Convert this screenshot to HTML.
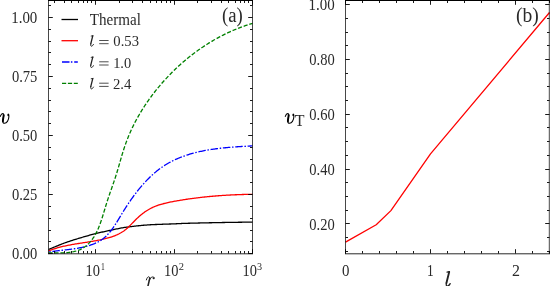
<!DOCTYPE html>
<html><head><meta charset="utf-8"><style>
html,body{margin:0;padding:0;background:#fff;}
svg{display:block;}
text{font-family:"Liberation Serif",serif;fill:#2a2a2a;}
svg{will-change:transform;}
</style></head><body>
<svg width="550" height="286" viewBox="0 0 550 286">
<rect width="550" height="286" fill="#fff"/>
<g fill="none" stroke-linejoin="round">
<polyline points="48.50,249.50 49.50,249.08 50.50,248.66 51.50,248.25 52.50,247.83 53.50,247.42 54.50,247.01 55.50,246.60 56.50,246.20 57.50,245.79 58.50,245.38 59.50,244.97 60.50,244.56 61.50,244.16 62.50,243.76 63.50,243.38 64.50,243.01 65.50,242.65 66.50,242.30 67.50,241.95 68.50,241.61 69.50,241.28 70.50,240.95 71.50,240.63 72.50,240.31 73.50,239.99 74.50,239.68 75.50,239.37 76.50,239.06 77.50,238.75 78.50,238.45 79.50,238.15 80.50,237.85 81.50,237.55 82.50,237.25 83.50,236.96 84.50,236.66 85.50,236.37 86.50,236.08 87.50,235.80 88.50,235.51 89.50,235.23 90.50,234.96 91.50,234.69 92.50,234.42 93.50,234.16 94.50,233.90 95.50,233.65 96.50,233.40 97.50,233.16 98.50,232.92 99.50,232.69 100.50,232.46 101.50,232.23 102.50,232.00 103.50,231.78 104.50,231.56 105.50,231.34 106.50,231.13 107.50,230.91 108.50,230.70 109.50,230.49 110.50,230.28 111.50,230.07 112.50,229.85 113.50,229.63 114.50,229.41 115.50,229.19 116.50,228.98 117.50,228.76 118.50,228.55 119.50,228.35 120.50,228.16 121.50,227.97 122.50,227.79 123.50,227.63 124.50,227.47 125.50,227.33 126.50,227.19 127.50,227.06 128.50,226.92 129.50,226.79 130.50,226.66 131.50,226.54 132.50,226.41 133.50,226.29 134.50,226.18 135.50,226.06 136.50,225.95 137.50,225.84 138.50,225.74 139.50,225.64 140.50,225.54 141.50,225.44 142.50,225.35 143.50,225.27 144.50,225.18 145.50,225.10 146.50,225.03 147.50,224.96 148.50,224.89 149.50,224.83 150.50,224.77 151.50,224.72 152.50,224.66 153.50,224.62 154.50,224.57 155.50,224.52 156.50,224.48 157.50,224.44 158.50,224.40 159.50,224.36 160.50,224.33 161.50,224.29 162.50,224.26 163.50,224.22 164.50,224.19 165.50,224.15 166.50,224.12 167.50,224.09 168.50,224.05 169.50,224.02 170.50,223.98 171.50,223.94 172.50,223.90 173.50,223.86 174.50,223.82 175.50,223.78 176.50,223.73 177.50,223.68 178.50,223.63 179.50,223.58 180.50,223.53 181.50,223.50 182.50,223.46 183.50,223.43 184.50,223.40 185.50,223.36 186.50,223.33 187.50,223.30 188.50,223.27 189.50,223.24 190.50,223.21 191.50,223.19 192.50,223.16 193.50,223.13 194.50,223.11 195.50,223.08 196.50,223.05 197.50,223.03 198.50,223.01 199.50,222.98 200.50,222.96 201.50,222.93 202.50,222.91 203.50,222.89 204.50,222.87 205.50,222.85 206.50,222.83 207.50,222.81 208.50,222.79 209.50,222.77 210.50,222.75 211.50,222.73 212.50,222.71 213.50,222.69 214.50,222.67 215.50,222.65 216.50,222.63 217.50,222.61 218.50,222.59 219.50,222.58 220.50,222.56 221.50,222.54 222.50,222.52 223.50,222.51 224.50,222.49 225.50,222.47 226.50,222.45 227.50,222.44 228.50,222.42 229.50,222.40 230.50,222.39 231.50,222.37 232.50,222.36 233.50,222.34 234.50,222.33 235.50,222.31 236.50,222.30 237.50,222.28 238.50,222.27 239.50,222.25 240.50,222.24 241.50,222.23 242.50,222.21 243.50,222.20 244.50,222.19 245.50,222.18 246.50,222.16 247.50,222.15 248.50,222.14 249.50,222.13 250.50,222.12 251.50,222.11 252.50,222.10" stroke="#000" stroke-width="1.3"/>
<polyline points="48.50,250.92 49.44,250.55 50.38,250.19 51.33,249.84 52.28,249.50 53.23,249.18 54.18,248.86 55.13,248.56 56.09,248.26 57.05,247.98 58.01,247.70 58.97,247.44 59.94,247.18 60.90,246.93 61.87,246.69 62.84,246.46 63.81,246.23 64.79,246.02 65.76,245.80 66.74,245.60 67.71,245.40 68.69,245.20 69.67,245.02 70.65,244.83 71.64,244.65 72.62,244.48 73.60,244.31 74.59,244.14 75.58,243.97 76.56,243.81 77.55,243.65 78.54,243.49 79.53,243.34 80.51,243.18 81.50,243.03 82.49,242.88 83.48,242.72 84.47,242.57 85.46,242.42 86.45,242.27 87.44,242.11 88.43,241.95 89.42,241.80 90.41,241.63 91.40,241.47 92.38,241.31 93.37,241.14 94.36,240.96 95.34,240.79 96.33,240.61 97.31,240.42 98.30,240.23 99.28,240.03 100.26,239.83 101.24,239.62 102.22,239.41 103.20,239.19 104.18,238.96 105.15,238.72 106.12,238.48 107.09,238.23 108.06,237.96 109.02,237.69 109.98,237.40 110.93,237.10 111.88,236.79 112.82,236.47 113.75,236.13 114.68,235.77 115.59,235.40 116.50,235.01 117.40,234.61 118.29,234.19 119.17,233.75 120.04,233.28 120.90,232.80 121.74,232.30 122.58,231.78 123.40,231.23 124.20,230.66 124.99,230.06 125.77,229.45 126.53,228.81 127.28,228.15 128.03,227.47 128.76,226.78 129.48,226.07 130.20,225.35 130.92,224.63 131.63,223.90 132.33,223.17 133.04,222.43 133.75,221.70 134.46,220.97 135.17,220.25 135.89,219.53 136.62,218.82 137.35,218.13 138.09,217.44 138.83,216.77 139.58,216.11 140.34,215.46 141.11,214.82 141.88,214.20 142.66,213.59 143.45,212.99 144.24,212.40 145.05,211.83 145.86,211.28 146.68,210.74 147.51,210.21 148.35,209.70 149.20,209.21 150.06,208.73 150.92,208.27 151.80,207.83 152.69,207.41 153.58,207.00 154.49,206.61 155.40,206.24 156.32,205.88 157.25,205.53 158.19,205.21 159.14,204.89 160.09,204.59 161.05,204.30 162.01,204.02 162.98,203.76 163.96,203.50 164.93,203.26 165.92,203.02 166.90,202.80 167.89,202.58 168.88,202.37 169.88,202.16 170.87,201.96 171.87,201.77 172.87,201.58 173.87,201.39 174.86,201.21 175.86,201.04 176.86,200.86 177.85,200.69 178.85,200.52 179.85,200.35 180.84,200.19 181.83,200.02 182.83,199.86 183.82,199.71 184.81,199.55 185.81,199.40 186.80,199.25 187.79,199.11 188.78,198.96 189.77,198.82 190.76,198.68 191.75,198.55 192.74,198.41 193.73,198.28 194.72,198.15 195.71,198.03 196.70,197.90 197.69,197.78 198.68,197.66 199.67,197.54 200.66,197.43 201.65,197.32 202.63,197.21 203.62,197.10 204.61,196.99 205.60,196.89 206.59,196.79 207.58,196.69 208.57,196.60 209.56,196.50 210.54,196.41 211.53,196.32 212.52,196.23 213.51,196.15 214.50,196.06 215.49,195.98 216.48,195.90 217.47,195.83 218.46,195.75 219.45,195.68 220.45,195.61 221.44,195.54 222.43,195.47 223.42,195.41 224.41,195.34 225.41,195.28 226.40,195.22 227.40,195.17 228.39,195.11 229.39,195.06 230.38,195.00 231.38,194.95 232.37,194.91 233.37,194.86 234.37,194.82 235.37,194.77 236.37,194.73 237.37,194.69 238.37,194.66 239.37,194.62 240.37,194.59 241.37,194.55 242.38,194.52 243.38,194.49 244.39,194.47 245.39,194.44 246.40,194.42 247.41,194.39 248.42,194.37 249.43,194.35 250.44,194.33 251.45,194.32 252.46,194.30 252.50,194.30" stroke="#f00" stroke-width="1.3"/>
<polyline points="48.51,252.09 49.49,251.92 50.46,251.76 51.44,251.61 52.42,251.46 53.40,251.32 54.39,251.19 55.38,251.06 56.37,250.93 57.36,250.81 58.35,250.69 59.34,250.57 60.34,250.46 61.33,250.34 62.33,250.23 63.33,250.12 64.33,250.01 65.32,249.89 66.32,249.78 67.32,249.67 68.32,249.55 69.32,249.43 70.32,249.30 71.31,249.17 72.31,249.04 73.31,248.90 74.30,248.76 75.29,248.61 76.28,248.46 77.27,248.30 78.26,248.13 79.25,247.95 80.23,247.76 81.21,247.57 82.19,247.36 83.17,247.15 84.14,246.92 85.11,246.68 86.08,246.43 87.04,246.17 88.00,245.90 88.96,245.61 89.91,245.31 90.86,244.99 91.80,244.66 92.74,244.31 93.67,243.95 94.59,243.57 95.50,243.17 96.40,242.76 97.29,242.32 98.17,241.87 99.03,241.39 99.88,240.90 100.72,240.38 101.53,239.84 102.33,239.28 103.12,238.70 103.88,238.09 104.63,237.46 105.36,236.82 106.08,236.15 106.78,235.47 107.46,234.77 108.14,234.05 108.80,233.32 109.45,232.57 110.08,231.80 110.71,231.03 111.32,230.24 111.92,229.44 112.52,228.62 113.10,227.80 113.68,226.97 114.25,226.13 114.81,225.28 115.37,224.43 115.92,223.57 116.47,222.71 117.01,221.84 117.54,220.96 118.08,220.09 118.61,219.21 119.13,218.34 119.66,217.46 120.19,216.58 120.71,215.71 121.24,214.83 121.76,213.96 122.29,213.10 122.82,212.24 123.35,211.38 123.88,210.52 124.41,209.67 124.95,208.82 125.49,207.98 126.02,207.14 126.57,206.30 127.11,205.46 127.66,204.63 128.21,203.80 128.76,202.98 129.32,202.16 129.88,201.34 130.44,200.52 131.01,199.71 131.57,198.90 132.15,198.10 132.73,197.30 133.31,196.50 133.89,195.70 134.48,194.91 135.08,194.12 135.68,193.33 136.28,192.54 136.89,191.76 137.51,190.98 138.13,190.21 138.75,189.43 139.39,188.66 140.02,187.89 140.67,187.13 141.31,186.37 141.97,185.61 142.63,184.85 143.30,184.10 143.97,183.35 144.65,182.61 145.33,181.87 146.02,181.13 146.72,180.40 147.42,179.67 148.13,178.96 148.84,178.24 149.56,177.53 150.29,176.83 151.02,176.14 151.76,175.45 152.50,174.77 153.25,174.10 154.00,173.43 154.77,172.77 155.53,172.12 156.31,171.48 157.08,170.85 157.87,170.22 158.66,169.61 159.46,169.00 160.26,168.41 161.07,167.82 161.88,167.25 162.70,166.68 163.53,166.13 164.36,165.59 165.20,165.05 166.04,164.53 166.89,164.02 167.74,163.52 168.60,163.03 169.46,162.54 170.33,162.07 171.21,161.61 172.09,161.16 172.97,160.71 173.86,160.28 174.75,159.86 175.65,159.44 176.55,159.03 177.46,158.64 178.37,158.25 179.28,157.87 180.20,157.50 181.13,157.13 182.05,156.78 182.99,156.43 183.92,156.10 184.86,155.77 185.80,155.44 186.75,155.13 187.69,154.82 188.65,154.52 189.60,154.23 190.56,153.95 191.52,153.67 192.48,153.40 193.45,153.14 194.42,152.88 195.39,152.63 196.37,152.39 197.34,152.15 198.32,151.92 199.30,151.70 200.29,151.48 201.27,151.27 202.26,151.06 203.25,150.86 204.24,150.67 205.24,150.48 206.23,150.30 207.23,150.12 208.22,149.95 209.22,149.79 210.22,149.62 211.22,149.47 212.23,149.32 213.23,149.17 214.23,149.03 215.24,148.89 216.24,148.75 217.25,148.63 218.25,148.50 219.26,148.38 220.27,148.26 221.28,148.15 222.28,148.04 223.29,147.93 224.30,147.83 225.30,147.73 226.31,147.64 227.32,147.54 228.32,147.46 229.33,147.37 230.33,147.28 231.34,147.20 232.34,147.13 233.34,147.05 234.35,146.98 235.35,146.90 236.35,146.83 237.34,146.77 238.34,146.70 239.33,146.64 240.33,146.58 241.32,146.52 242.31,146.46 243.30,146.40 244.28,146.34 245.27,146.29 246.25,146.23 247.23,146.18 248.21,146.13 249.18,146.08 250.16,146.02 251.13,145.97 252.09,145.92 252.50,145.90" stroke="#00f" stroke-width="1.3" stroke-dasharray="7.5 1.7 1.5 1.7" stroke-dashoffset="-3.9"/>
<polyline points="48.50,252.94 49.43,252.91 50.38,252.89 51.33,252.88 52.30,252.87 53.28,252.87 54.28,252.87 55.27,252.87 56.28,252.87 57.30,252.87 58.32,252.87 59.34,252.87 60.37,252.86 61.40,252.85 62.44,252.83 63.47,252.79 64.50,252.75 65.54,252.70 66.57,252.63 67.59,252.55 68.62,252.46 69.63,252.34 70.64,252.21 71.65,252.06 72.64,251.89 73.63,251.69 74.60,251.47 75.56,251.23 76.52,250.96 77.45,250.66 78.38,250.33 79.28,249.97 80.17,249.58 81.05,249.16 81.90,248.70 82.74,248.21 83.56,247.70 84.37,247.15 85.15,246.58 85.92,245.98 86.67,245.36 87.41,244.71 88.13,244.04 88.83,243.34 89.51,242.62 90.18,241.88 90.83,241.12 91.46,240.35 92.07,239.55 92.67,238.74 93.25,237.91 93.81,237.07 94.35,236.21 94.88,235.34 95.39,234.45 95.89,233.56 96.36,232.66 96.82,231.74 97.26,230.82 97.69,229.89 98.10,228.95 98.50,228.01 98.89,227.06 99.27,226.11 99.63,225.15 99.98,224.19 100.33,223.23 100.67,222.26 101.00,221.30 101.32,220.33 101.64,219.37 101.95,218.40 102.26,217.44 102.56,216.48 102.86,215.52 103.16,214.56 103.45,213.60 103.75,212.64 104.04,211.68 104.32,210.72 104.61,209.77 104.90,208.81 105.18,207.86 105.47,206.91 105.76,205.96 106.05,205.01 106.34,204.07 106.63,203.12 106.93,202.18 107.23,201.24 107.53,200.30 107.84,199.36 108.15,198.42 108.46,197.49 108.77,196.56 109.09,195.62 109.41,194.69 109.73,193.76 110.05,192.83 110.38,191.90 110.70,190.97 111.02,190.04 111.35,189.11 111.68,188.18 112.00,187.26 112.33,186.32 112.65,185.39 112.98,184.46 113.30,183.53 113.62,182.60 113.94,181.66 114.26,180.72 114.57,179.78 114.89,178.84 115.20,177.90 115.51,176.96 115.81,176.01 116.11,175.06 116.41,174.11 116.71,173.16 117.00,172.20 117.29,171.24 117.58,170.28 117.86,169.32 118.14,168.35 118.42,167.39 118.70,166.42 118.98,165.45 119.26,164.49 119.54,163.52 119.82,162.55 120.09,161.58 120.37,160.61 120.65,159.64 120.93,158.67 121.22,157.70 121.50,156.73 121.78,155.76 122.07,154.79 122.36,153.82 122.66,152.86 122.95,151.89 123.25,150.93 123.56,149.97 123.87,149.01 124.18,148.05 124.50,147.10 124.82,146.14 125.14,145.19 125.48,144.25 125.82,143.30 126.16,142.36 126.51,141.42 126.86,140.48 127.22,139.55 127.59,138.62 127.96,137.69 128.33,136.76 128.71,135.84 129.10,134.92 129.49,134.00 129.89,133.08 130.29,132.17 130.69,131.26 131.11,130.35 131.52,129.45 131.94,128.54 132.37,127.64 132.80,126.75 133.24,125.85 133.68,124.96 134.13,124.07 134.58,123.19 135.03,122.30 135.49,121.42 135.96,120.54 136.43,119.67 136.90,118.79 137.38,117.92 137.87,117.06 138.36,116.19 138.85,115.33 139.35,114.47 139.85,113.61 140.36,112.76 140.87,111.91 141.38,111.06 141.91,110.21 142.43,109.37 142.96,108.53 143.49,107.69 144.03,106.85 144.57,106.02 145.12,105.19 145.67,104.36 146.23,103.54 146.79,102.72 147.35,101.90 147.92,101.08 148.49,100.27 149.07,99.45 149.65,98.65 150.23,97.84 150.82,97.04 151.41,96.24 152.01,95.44 152.61,94.64 153.22,93.85 153.82,93.06 154.44,92.27 155.05,91.49 155.67,90.71 156.30,89.93 156.92,89.15 157.55,88.38 158.19,87.61 158.83,86.84 159.47,86.07 160.12,85.31 160.77,84.55 161.42,83.79 162.08,83.04 162.74,82.29 163.40,81.54 164.07,80.79 164.74,80.05 165.41,79.31 166.09,78.57 166.77,77.84 167.46,77.11 168.15,76.38 168.84,75.66 169.54,74.94 170.24,74.22 170.94,73.50 171.64,72.79 172.35,72.08 173.07,71.38 173.78,70.67 174.50,69.97 175.23,69.28 175.95,68.59 176.68,67.90 177.41,67.21 178.15,66.53 178.89,65.85 179.63,65.18 180.38,64.50 181.12,63.84 181.88,63.17 182.63,62.51 183.39,61.85 184.15,61.20 184.92,60.55 185.68,59.90 186.45,59.26 187.23,58.62 188.00,57.99 188.78,57.36 189.57,56.73 190.35,56.10 191.14,55.48 191.93,54.87 192.73,54.26 193.52,53.65 194.32,53.04 195.13,52.44 195.93,51.85 196.74,51.26 197.55,50.67 198.37,50.09 199.19,49.51 200.01,48.93 200.83,48.36 201.66,47.79 202.49,47.23 203.32,46.67 204.15,46.12 204.99,45.57 205.83,45.02 206.67,44.48 207.51,43.94 208.36,43.41 209.21,42.88 210.06,42.36 210.92,41.84 211.78,41.33 212.64,40.82 213.50,40.31 214.37,39.81 215.24,39.32 216.11,38.83 216.98,38.34 217.85,37.86 218.73,37.38 219.61,36.91 220.50,36.44 221.38,35.98 222.27,35.52 223.16,35.07 224.05,34.62 224.95,34.18 225.84,33.74 226.74,33.31 227.64,32.88 228.55,32.45 229.45,32.04 230.36,31.62 231.27,31.22 232.19,30.81 233.10,30.42 234.02,30.02 234.94,29.64 235.86,29.25 236.78,28.88 237.71,28.51 238.64,28.14 239.57,27.78 240.50,27.43 241.43,27.08 242.37,26.73 243.31,26.39 244.25,26.06 245.19,25.73 246.13,25.41 247.08,25.09 248.03,24.78 248.98,24.48 249.93,24.18 250.88,23.88 251.84,23.59 252.50,23.40" stroke="#008000" stroke-width="1.3" stroke-dasharray="4.1 1.85"/>
<polyline points="345.5,242.1 376.2,224.7 390.9,210.6 430.5,153.9 549.5,12.5" stroke="#f00" stroke-width="1.3"/>
</g>
<g fill="none" stroke="#000" stroke-width="1">
<path d="M48.5,0V253.9M252.5,0V253.9M345.5,0V253.9M549.3,0V253.9" stroke-width="0.72"/>
<path d="M48,253.8H253M345,253.8H550" stroke-width="0.85"/>
<path d="M48,0.4H253M345,0.4H550" stroke-width="1.1"/>
<path d="M48.5,253.50h4.3M252.5,253.50h-4.3M48.5,241.50h2.5M252.5,241.50h-2.5M48.5,230.50h2.5M252.5,230.50h-2.5M48.5,218.50h2.5M252.5,218.50h-2.5M48.5,206.50h2.5M252.5,206.50h-2.5M48.5,194.50h4.3M252.5,194.50h-4.3M48.5,182.50h2.5M252.5,182.50h-2.5M48.5,170.50h2.5M252.5,170.50h-2.5M48.5,159.50h2.5M252.5,159.50h-2.5M48.5,147.50h2.5M252.5,147.50h-2.5M48.5,135.50h4.3M252.5,135.50h-4.3M48.5,123.50h2.5M252.5,123.50h-2.5M48.5,111.50h2.5M252.5,111.50h-2.5M48.5,100.50h2.5M252.5,100.50h-2.5M48.5,88.50h2.5M252.5,88.50h-2.5M48.5,76.50h4.3M252.5,76.50h-4.3M48.5,64.50h2.5M252.5,64.50h-2.5M48.5,52.50h2.5M252.5,52.50h-2.5M48.5,41.50h2.5M252.5,41.50h-2.5M48.5,29.50h2.5M252.5,29.50h-2.5M48.5,17.50h4.3M252.5,17.50h-4.3M48.5,5.50h2.5M252.5,5.50h-2.5M54.50,253.5v-2.5M54.50,0.5v2.5M64.50,253.5v-2.5M64.50,0.5v2.5M71.50,253.5v-2.5M71.50,0.5v2.5M78.50,253.5v-2.5M78.50,0.5v2.5M83.50,253.5v-2.5M83.50,0.5v2.5M87.50,253.5v-2.5M87.50,0.5v2.5M91.50,253.5v-2.5M91.50,0.5v2.5M95.50,253.5v-4.3M95.50,0.5v4.3M119.50,253.5v-2.5M119.50,0.5v2.5M132.50,253.5v-2.5M132.50,0.5v2.5M142.50,253.5v-2.5M142.50,0.5v2.5M150.50,253.5v-2.5M150.50,0.5v2.5M156.50,253.5v-2.5M156.50,0.5v2.5M161.50,253.5v-2.5M161.50,0.5v2.5M166.50,253.5v-2.5M166.50,0.5v2.5M170.50,253.5v-2.5M170.50,0.5v2.5M174.50,253.5v-4.3M174.50,0.5v4.3M197.50,253.5v-2.5M197.50,0.5v2.5M211.50,253.5v-2.5M211.50,0.5v2.5M221.50,253.5v-2.5M221.50,0.5v2.5M228.50,253.5v-2.5M228.50,0.5v2.5M235.50,253.5v-2.5M235.50,0.5v2.5M240.50,253.5v-2.5M240.50,0.5v2.5M244.50,253.5v-2.5M244.50,0.5v2.5M248.50,253.5v-2.5M248.50,0.5v2.5M252.50,253.5v-4.3M252.50,0.5v4.3M345.5,4.50h4.3M549.5,4.50h-4.3M345.5,18.50h2.5M549.5,18.50h-2.5M345.5,32.50h2.5M549.5,32.50h-2.5M345.5,45.50h2.5M549.5,45.50h-2.5M345.5,59.50h4.3M549.5,59.50h-4.3M345.5,73.50h2.5M549.5,73.50h-2.5M345.5,86.50h2.5M549.5,86.50h-2.5M345.5,100.50h2.5M549.5,100.50h-2.5M345.5,114.50h4.3M549.5,114.50h-4.3M345.5,127.50h2.5M549.5,127.50h-2.5M345.5,141.50h2.5M549.5,141.50h-2.5M345.5,155.50h2.5M549.5,155.50h-2.5M345.5,169.50h4.3M549.5,169.50h-4.3M345.5,182.50h2.5M549.5,182.50h-2.5M345.5,196.50h2.5M549.5,196.50h-2.5M345.5,210.50h2.5M549.5,210.50h-2.5M345.5,223.50h4.3M549.5,223.50h-4.3M345.5,237.50h2.5M549.5,237.50h-2.5M345.5,251.50h2.5M549.5,251.50h-2.5M345.50,253.5v-4.3M345.50,0.5v4.3M362.50,253.5v-2.5M362.50,0.5v2.5M379.50,253.5v-2.5M379.50,0.5v2.5M396.50,253.5v-2.5M396.50,0.5v2.5M413.50,253.5v-2.5M413.50,0.5v2.5M430.50,253.5v-4.3M430.50,0.5v4.3M447.50,253.5v-2.5M447.50,0.5v2.5M464.50,253.5v-2.5M464.50,0.5v2.5M481.50,253.5v-2.5M481.50,0.5v2.5M498.50,253.5v-2.5M498.50,0.5v2.5M515.50,253.5v-4.3M515.50,0.5v4.3M532.50,253.5v-2.5M532.50,0.5v2.5M549.50,253.5v-2.5M549.50,0.5v2.5" stroke-width="0.9"/>
</g>
<g fill="none" stroke-width="1.3">
<line x1="61.5" x2="78" y1="19.5" y2="19.5" stroke="#000"/>
<line x1="61.5" x2="78" y1="40.7" y2="40.7" stroke="#f00"/>
<line x1="62" x2="77.8" y1="62" y2="62" stroke="#00f" stroke-dasharray="7.5 1.4 1.5 1.8"/>
<line x1="62" x2="77.8" y1="83.3" y2="83.3" stroke="#008000" stroke-dasharray="4.2 1.7"/>
</g>
<path d="M99.2,40.50H108.6M99.2,43.70H108.6M99.2,61.80H108.6M99.2,65.00H108.6M99.2,83.20H108.6M99.2,86.40H108.6" stroke="#222" stroke-width="0.8" fill="none"/>
<text x="89.83" y="25.10" style="font-size:16px;" textLength="51.07" lengthAdjust="spacingAndGlyphs" >Thermal</text>
<text x="113.34" y="46.30" style="font-size:15.5px;" textLength="25.63" lengthAdjust="spacingAndGlyphs" >0.53</text>
<text x="113.13" y="67.60" style="font-size:15.5px;" textLength="18.02" lengthAdjust="spacingAndGlyphs" >1.0</text>
<text x="112.95" y="89.00" style="font-size:15.5px;" textLength="18.38" lengthAdjust="spacingAndGlyphs" >2.4</text>
<text x="11.18" y="23.10" style="font-size:16px;" textLength="26.18" lengthAdjust="spacingAndGlyphs" >1.00</text>
<text x="11.95" y="82.14" style="font-size:16px;" textLength="25.42" lengthAdjust="spacingAndGlyphs" >0.75</text>
<text x="11.95" y="141.17" style="font-size:16px;" textLength="25.41" lengthAdjust="spacingAndGlyphs" >0.50</text>
<text x="11.95" y="200.21" style="font-size:16px;" textLength="25.42" lengthAdjust="spacingAndGlyphs" >0.25</text>
<text x="11.95" y="259.25" style="font-size:16px;" textLength="25.41" lengthAdjust="spacingAndGlyphs" >0.00</text>
<text x="308.48" y="10.30" style="font-size:16px;" textLength="26.18" lengthAdjust="spacingAndGlyphs" >1.00</text>
<text x="309.25" y="65.10" style="font-size:16px;" textLength="25.41" lengthAdjust="spacingAndGlyphs" >0.80</text>
<text x="309.25" y="119.90" style="font-size:16px;" textLength="25.41" lengthAdjust="spacingAndGlyphs" >0.60</text>
<text x="309.25" y="174.70" style="font-size:16px;" textLength="25.41" lengthAdjust="spacingAndGlyphs" >0.40</text>
<text x="309.25" y="229.50" style="font-size:16px;" textLength="25.41" lengthAdjust="spacingAndGlyphs" >0.20</text>
<text x="85.53" y="276.00" style="font-size:16px;" textLength="14.42" lengthAdjust="spacingAndGlyphs" >10</text>
<text x="100.93" y="270.30" style="font-size:11px;" textLength="3.83" lengthAdjust="spacingAndGlyphs" >1</text>
<text x="164.03" y="276.00" style="font-size:16px;" textLength="14.42" lengthAdjust="spacingAndGlyphs" >10</text>
<text x="178.64" y="270.30" style="font-size:11px;" textLength="5.24" lengthAdjust="spacingAndGlyphs" >2</text>
<text x="242.53" y="276.00" style="font-size:16px;" textLength="14.42" lengthAdjust="spacingAndGlyphs" >10</text>
<text x="257.11" y="270.30" style="font-size:11px;" textLength="5.08" lengthAdjust="spacingAndGlyphs" >3</text>
<text x="342.03" y="276.00" style="font-size:16px;" textLength="7.43" lengthAdjust="spacingAndGlyphs" >0</text>
<text x="427.03" y="275.80" style="font-size:16px;" textLength="6.68" lengthAdjust="spacingAndGlyphs" >1</text>
<text x="512.10" y="276.00" style="font-size:16px;" textLength="7.98" lengthAdjust="spacingAndGlyphs" >2</text>
<text x="294.71" y="126.40" style="font-size:16.5px;" textLength="9.75" lengthAdjust="spacingAndGlyphs" >T</text>
<text x="221.97" y="22.20" style="font-size:20.5px;" textLength="20.85" lengthAdjust="spacingAndGlyphs" >(a)</text>
<text x="516.04" y="22.00" style="font-size:20.5px;" textLength="22.82" lengthAdjust="spacingAndGlyphs" >(b)</text>
<g transform="translate(90.0,46.3) scale(1.0000)" fill="none" stroke="#222" stroke-linecap="round"><path d="M1.2,-10.25 L2.95,-10.6" stroke-width="0.9"/><path d="M2.75,-10.4 L0.75,-2.4" stroke-width="1.35"/><path d="M0.75,-2.4 C0.45,-1.0 0.7,-0.1 1.45,-0.1 C2.2,-0.1 2.9,-0.9 3.45,-1.9" stroke-width="0.95"/></g><g transform="translate(90.0,67.6) scale(1.0000)" fill="none" stroke="#222" stroke-linecap="round"><path d="M1.2,-10.25 L2.95,-10.6" stroke-width="0.9"/><path d="M2.75,-10.4 L0.75,-2.4" stroke-width="1.35"/><path d="M0.75,-2.4 C0.45,-1.0 0.7,-0.1 1.45,-0.1 C2.2,-0.1 2.9,-0.9 3.45,-1.9" stroke-width="0.95"/></g><g transform="translate(90.0,89.0) scale(1.0000)" fill="none" stroke="#222" stroke-linecap="round"><path d="M1.2,-10.25 L2.95,-10.6" stroke-width="0.9"/><path d="M2.75,-10.4 L0.75,-2.4" stroke-width="1.35"/><path d="M0.75,-2.4 C0.45,-1.0 0.7,-0.1 1.45,-0.1 C2.2,-0.1 2.9,-0.9 3.45,-1.9" stroke-width="0.95"/></g><g transform="translate(146.0,286.5) scale(1.0000)" fill="none" stroke="#222" stroke-linecap="round"><path d="M0.4,-6.6 C0.9,-8.6 1.7,-9.7 2.6,-9.7 C3.5,-9.7 3.9,-9.0 3.7,-7.9" stroke-width="1.0"/><path d="M3.8,-8.4 L1.9,-0.2" stroke-width="1.55"/><path d="M3.2,-5.8 C4.2,-8.4 5.4,-9.6 6.9,-9.6 C7.5,-9.6 7.9,-9.4 8.1,-9.1" stroke-width="0.95"/><circle cx="7.7" cy="-8.2" r="1.05" fill="#222" stroke="none"/></g><g transform="translate(445.4,286.3) scale(1.3750)" fill="none" stroke="#222" stroke-linecap="round"><path d="M1.2,-10.25 L2.95,-10.6" stroke-width="0.9"/><path d="M2.75,-10.4 L0.75,-2.4" stroke-width="1.35"/><path d="M0.75,-2.4 C0.45,-1.0 0.7,-0.1 1.45,-0.1 C2.2,-0.1 2.9,-0.9 3.45,-1.9" stroke-width="0.95"/></g>
<g transform="translate(0.0,110.0)" fill="none" stroke="#000" stroke-linecap="round"><path d="M0.3,6.4 C0.9,4.6 1.9,3.6 2.7,3.6 C3.7,3.7 3.9,4.7 3.6,6.3 C3.3,8.1 2.8,9.6 2.8,11.2 C2.8,12.6 3.5,13.3 4.6,13.3 C6.7,13.3 8.7,10.4 8.9,6.6 C8.9,5.4 8.7,4.6 8.3,4.2" stroke-width="1.05"/><path d="M3.7,5.2 C3.5,7.2 2.9,9.2 2.9,11.2" stroke-width="1.9"/><ellipse cx="8.3" cy="5.0" rx="0.9" ry="1.2" fill="#000" stroke="none"/></g>
<g transform="translate(285.0,110.0)" fill="none" stroke="#000" stroke-linecap="round"><path d="M0.3,6.4 C0.9,4.6 1.9,3.6 2.7,3.6 C3.7,3.7 3.9,4.7 3.6,6.3 C3.3,8.1 2.8,9.6 2.8,11.2 C2.8,12.6 3.5,13.3 4.6,13.3 C6.7,13.3 8.7,10.4 8.9,6.6 C8.9,5.4 8.7,4.6 8.3,4.2" stroke-width="1.05"/><path d="M3.7,5.2 C3.5,7.2 2.9,9.2 2.9,11.2" stroke-width="1.9"/><ellipse cx="8.3" cy="5.0" rx="0.9" ry="1.2" fill="#000" stroke="none"/></g>
</svg>
</body></html>
